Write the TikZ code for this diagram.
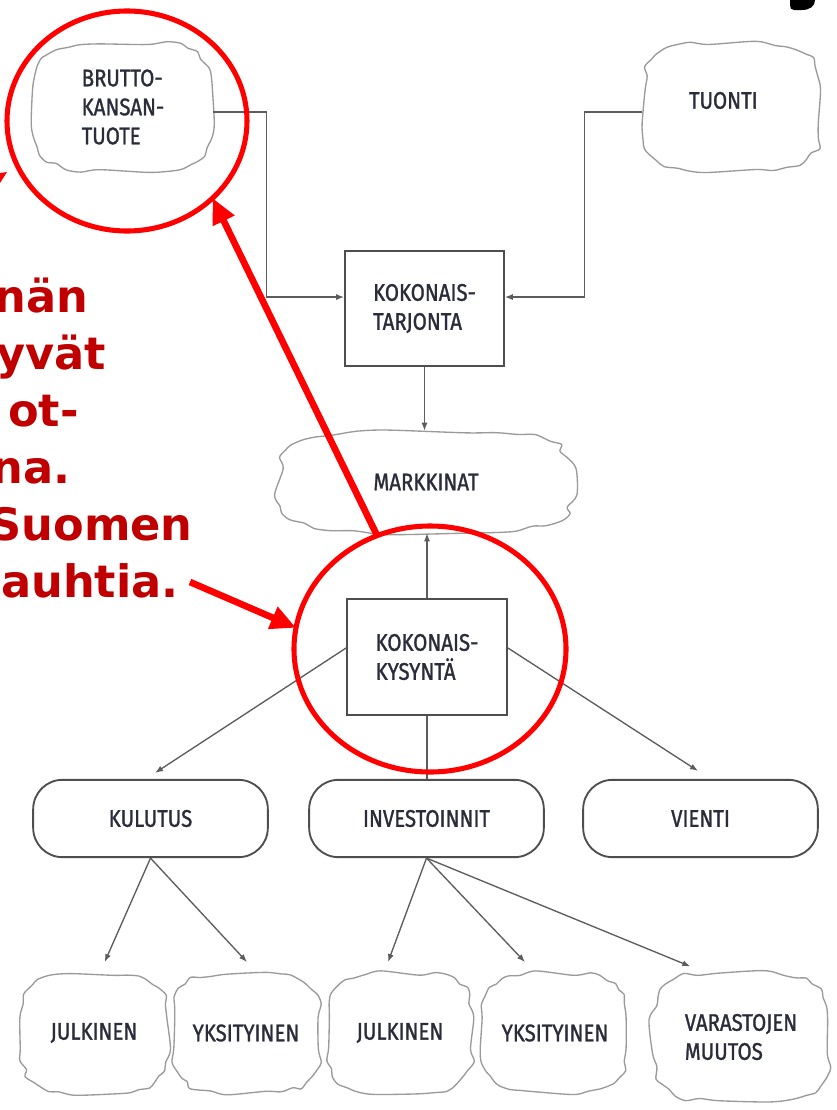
\documentclass[tikz,border=0pt]{standalone}
\usepackage{fontspec}
\usetikzlibrary{arrows.meta,shapes.geometric}
\newfontfamily\diagfont[FakeStretch=0.85,FakeBold=1.2]{Fira Sans}
\newfontfamily\redfont{DejaVu Sans}
\definecolor{txt}{HTML}{2A2C3A}
\definecolor{linegray}{HTML}{5C5C5C}
\definecolor{boxgray}{HTML}{4E4E4E}
\definecolor{cloudgray}{HTML}{9A9A9A}
\definecolor{darkred}{HTML}{C00000}
\tikzset{
  diag/.style={font=\diagfont\fontsize{18}{21.75}\selectfont, text=txt},
  box/.style={diag, draw=boxgray, line width=1.4pt, minimum width=120pt, minimum height=87pt, align=left, inner sep=0pt},
  rbox/.style={diag, draw=boxgray, line width=1.4pt, rounded corners=22pt, minimum width=176pt, minimum height=58pt, inner sep=0pt},
  cloudnode/.style={diag, align=left, inner sep=0pt},
  cloudline/.style={draw=cloudgray, line width=1pt},
  conn/.style={draw=linegray, line width=1pt},
  arr/.style={conn, -{Latex[length=6pt,width=4.5pt]}},
  redring/.style={ellipse, draw=red, line width=3.8pt, inner sep=0pt, outer sep=0pt},
  redarrow/.style={draw=red, line width=5pt, -{Triangle[length=19pt,width=17pt]}},
  redtext/.style={font=\redfont\bfseries\fontsize{33.5}{42}\selectfont, text=darkred, inner sep=0pt, anchor=base east}
}
\newcommand\cloudshape[5]{%
  \pgfmathsetseed{#5}%
  \draw[cloudline] plot[smooth cycle, variable=\t, samples at={5,15,...,355}]
    ({#1+#3*cos(\t)*abs(cos(\t))^(-0.45)*(1+0.04*rand)},
     {#2+#4*sin(\t)*abs(sin(\t))^(-0.45)*(1+0.04*rand)});
}
\begin{document}
\begin{tikzpicture}[x=0.75pt,y=-0.75pt]
\path[use as bounding box, fill=white] (0,0) rectangle (836,1110);

% cloud outlines
\cloudshape{123}{107}{90}{65}{11}
\cloudshape{732}{107}{90}{65}{23}
\cloudshape{426}{482}{147}{51}{37}
\cloudshape{94}{1033}{74}{60}{41}
\cloudshape{246}{1033}{74}{60}{53}
\cloudshape{400}{1033}{73}{60}{67}
\cloudshape{555}{1033}{73}{60}{71}
\cloudshape{741}{1037}{89}{65}{89}

% cloud nodes
\node[cloudnode, minimum width=135pt, minimum height=97.5pt] (bkt) at (123,107) {BRUTTO-\\KANSAN-\\TUOTE};
\node[cloudnode, minimum width=135pt, minimum height=97.5pt] (tuonti) at (732,107) {\raisebox{10pt}{TUONTI}\hspace*{13pt}};
\node[cloudnode, minimum width=220pt, minimum height=76.5pt] (mark) at (426,482) {MARKKINAT};
\node[cloudnode, minimum width=111pt, minimum height=90pt] (j1) at (94,1033) {JULKINEN};
\node[cloudnode, minimum width=111pt, minimum height=90pt] (y1) at (246,1033) {YKSITYINEN};
\node[cloudnode, minimum width=110pt, minimum height=90pt] (j2) at (400,1033) {JULKINEN};
\node[cloudnode, minimum width=110pt, minimum height=90pt] (y2) at (555,1033) {YKSITYINEN};
\node[cloudnode, minimum width=133pt, minimum height=97.5pt] (var) at (741,1037) {VARASTOJEN\\MUUTOS};

% boxes
\node[box, minimum width=119pt, minimum height=86pt] (tarj) at (424.5,308.5) {KOKONAIS-\\TARJONTA};
\node[box] (kys) at (427,657) {KOKONAIS-\\KYSYNTÄ};
\node[rbox] (kul) at (150.5,818.5) {KULUTUS};
\node[rbox] (inv) at (426.5,818.5) {INVESTOINNIT};
\node[rbox] (vie) at (700.5,818.5) {VIENTI};

% connectors
\draw[arr] ([yshift=-3.75pt]bkt.east) -- ++(53,0) |- ([yshift=8.6pt]tarj.west);
\draw[arr] ([yshift=-3.75pt]tuonti.west) -- ++(-57,0) |- ([yshift=8.6pt]tarj.east);
\draw[arr] (tarj.south) -- (tarj.south |- mark.north);
\draw[arr] (kys.north) -- (kys.north |- mark.south);
\draw[arr] ([yshift=6.75pt]kys.west) -- ([xshift=3.4pt,yshift=4.5pt]kul.north);
\draw[arr] ([yshift=6.75pt]kys.east) -- ([xshift=-1.9pt,yshift=6pt]vie.north);
\draw[conn] (kys.south) -- (kys.south |- inv.north);
\draw[arr] (kul.south) -- ([xshift=8pt,yshift=8pt]j1.north);
\draw[arr] (kul.south) -- ([xshift=0.75pt,yshift=8pt]y1.north);
\draw[arr] (inv.south) -- ([xshift=-9pt,yshift=8pt]j2.north);
\draw[arr] (inv.south) -- ([xshift=-22.5pt,yshift=8pt]y2.north);
\draw[arr] (inv.south) -- ([xshift=-38pt,yshift=4pt]var.north);

% black glyph fragment at top right
\fill[black] (790,0) -- (815,0) .. controls (815,6) and (810,10) .. (802,10) -- (794,10) .. controls (791,10) and (790,8) .. (790,5) -- cycle;

% red annotations
\node[redring, minimum width=180pt, minimum height=165pt] (c1) at (127,121) {};
\node[redring, minimum width=204pt, minimum height=184.5pt] (c2) at (430,649) {};

\node[redtext] (t1) at (89,312) {nän};
\node[redtext] (t2) at (106,369) {yvät};
\node[redtext] (t3) at (79,426) {ot-};
\node[redtext] (t4) at (71,483) {na.};
\node[redtext] (t5) at (193,540) {Suomen};
\node[redtext] (t6) at (179,597) {auhtia.};

\coordinate (a2s) at (190,582);
\draw[redarrow] (c2.115) -- (c1.-42.6);
\draw[redarrow] (a2s) -- (c2.171);
\fill[red] (0,173) -- (7,172) -- (0,183) -- cycle;
\end{tikzpicture}
\end{document}
